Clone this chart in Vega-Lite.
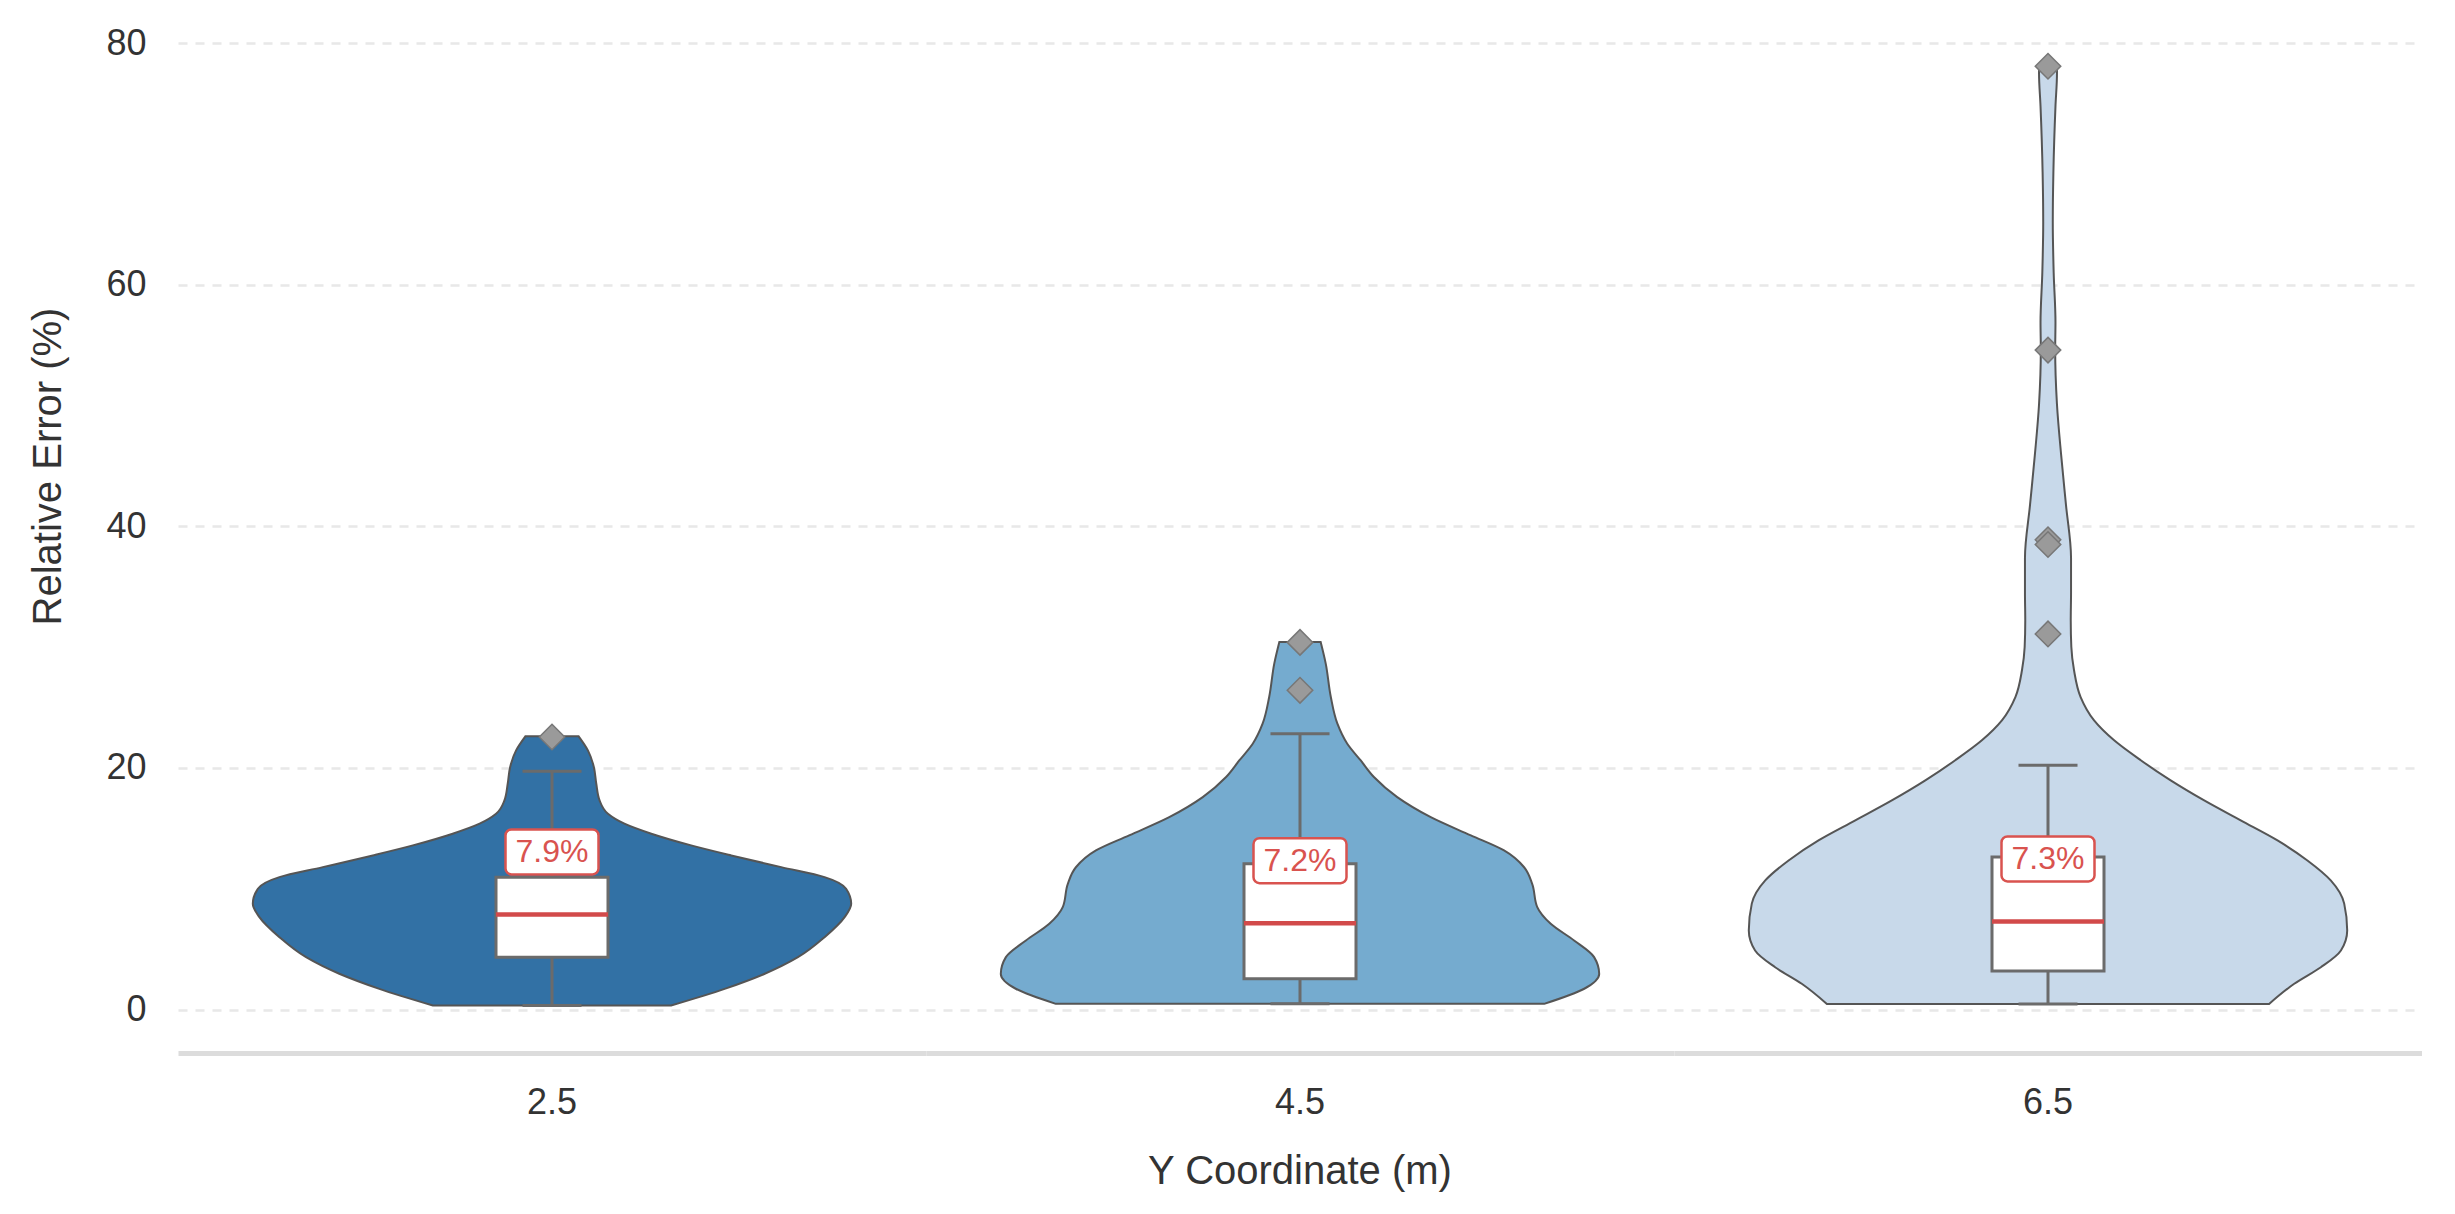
{
  "$schema": "https://vega.github.io/schema/vega-lite/v6.json",
  "padding": {"left": 28, "top": 18, "right": 0, "bottom": 0},
  "background": "white",
  "config": {
    "font": "Liberation Sans",
    "view": {"stroke": null}
  },
  "data": {
    "values": [
      {"kind": "v", "group": "2.5", "err": 22.62, "dens": 0.089},
      {"kind": "v", "group": "2.5", "err": 21.46, "dens": 0.120},
      {"kind": "v", "group": "2.5", "err": 20.07, "dens": 0.140},
      {"kind": "v", "group": "2.5", "err": 18.70, "dens": 0.148},
      {"kind": "v", "group": "2.5", "err": 17.32, "dens": 0.159},
      {"kind": "v", "group": "2.5", "err": 16.21, "dens": 0.187},
      {"kind": "v", "group": "2.5", "err": 15.39, "dens": 0.242},
      {"kind": "v", "group": "2.5", "err": 14.56, "dens": 0.332},
      {"kind": "v", "group": "2.5", "err": 13.59, "dens": 0.465},
      {"kind": "v", "group": "2.5", "err": 12.76, "dens": 0.599},
      {"kind": "v", "group": "2.5", "err": 11.79, "dens": 0.766},
      {"kind": "v", "group": "2.5", "err": 10.96, "dens": 0.911},
      {"kind": "v", "group": "2.5", "err": 10.00, "dens": 0.983},
      {"kind": "v", "group": "2.5", "err": 8.76, "dens": 1.0},
      {"kind": "v", "group": "2.5", "err": 7.65, "dens": 0.978},
      {"kind": "v", "group": "2.5", "err": 5.99, "dens": 0.911},
      {"kind": "v", "group": "2.5", "err": 4.33, "dens": 0.822},
      {"kind": "v", "group": "2.5", "err": 2.96, "dens": 0.711},
      {"kind": "v", "group": "2.5", "err": 1.71, "dens": 0.577},
      {"kind": "v", "group": "2.5", "err": 0.33, "dens": 0.398},

      {"kind": "v", "group": "4.5", "err": 30.43, "dens": 0.069},
      {"kind": "v", "group": "4.5", "err": 28.64, "dens": 0.086},
      {"kind": "v", "group": "4.5", "err": 25.88, "dens": 0.103},
      {"kind": "v", "group": "4.5", "err": 23.67, "dens": 0.125},
      {"kind": "v", "group": "4.5", "err": 22.01, "dens": 0.158},
      {"kind": "v", "group": "4.5", "err": 20.62, "dens": 0.203},
      {"kind": "v", "group": "4.5", "err": 19.25, "dens": 0.247},
      {"kind": "v", "group": "4.5", "err": 17.59, "dens": 0.325},
      {"kind": "v", "group": "4.5", "err": 15.93, "dens": 0.437},
      {"kind": "v", "group": "4.5", "err": 14.42, "dens": 0.571},
      {"kind": "v", "group": "4.5", "err": 13.17, "dens": 0.682},
      {"kind": "v", "group": "4.5", "err": 11.78, "dens": 0.749},
      {"kind": "v", "group": "4.5", "err": 10.41, "dens": 0.776},
      {"kind": "v", "group": "4.5", "err": 8.48, "dens": 0.793},
      {"kind": "v", "group": "4.5", "err": 7.10, "dens": 0.838},
      {"kind": "v", "group": "4.5", "err": 5.72, "dens": 0.916},
      {"kind": "v", "group": "4.5", "err": 4.34, "dens": 0.983},
      {"kind": "v", "group": "4.5", "err": 2.95, "dens": 1.0},
      {"kind": "v", "group": "4.5", "err": 1.72, "dens": 0.950},
      {"kind": "v", "group": "4.5", "err": 0.47, "dens": 0.816},

      {"kind": "v", "group": "6.5", "err": 78.2, "dens": 0.030},
      {"kind": "v", "group": "6.5", "err": 77.5, "dens": 0.030},
      {"kind": "v", "group": "6.5", "err": 74.8, "dens": 0.025},
      {"kind": "v", "group": "6.5", "err": 69.3, "dens": 0.018},
      {"kind": "v", "group": "6.5", "err": 65.2, "dens": 0.016},
      {"kind": "v", "group": "6.5", "err": 61.0, "dens": 0.019},
      {"kind": "v", "group": "6.5", "err": 56.9, "dens": 0.025},
      {"kind": "v", "group": "6.5", "err": 54.6, "dens": 0.024},
      {"kind": "v", "group": "6.5", "err": 50.1, "dens": 0.030},
      {"kind": "v", "group": "6.5", "err": 45.9, "dens": 0.044},
      {"kind": "v", "group": "6.5", "err": 41.8, "dens": 0.060},
      {"kind": "v", "group": "6.5", "err": 37.4, "dens": 0.077},
      {"kind": "v", "group": "6.5", "err": 34.5, "dens": 0.077},
      {"kind": "v", "group": "6.5", "err": 32.23, "dens": 0.076},
      {"kind": "v", "group": "6.5", "err": 30.02, "dens": 0.078},
      {"kind": "v", "group": "6.5", "err": 28.09, "dens": 0.087},
      {"kind": "v", "group": "6.5", "err": 25.87, "dens": 0.109},
      {"kind": "v", "group": "6.5", "err": 23.94, "dens": 0.154},
      {"kind": "v", "group": "6.5", "err": 22.29, "dens": 0.221},
      {"kind": "v", "group": "6.5", "err": 20.64, "dens": 0.310},
      {"kind": "v", "group": "6.5", "err": 18.97, "dens": 0.410},
      {"kind": "v", "group": "6.5", "err": 17.31, "dens": 0.522},
      {"kind": "v", "group": "6.5", "err": 15.66, "dens": 0.644},
      {"kind": "v", "group": "6.5", "err": 14.0, "dens": 0.767},
      {"kind": "v", "group": "6.5", "err": 12.34, "dens": 0.867},
      {"kind": "v", "group": "6.5", "err": 10.69, "dens": 0.945},
      {"kind": "v", "group": "6.5", "err": 8.77, "dens": 0.990},
      {"kind": "v", "group": "6.5", "err": 6.55, "dens": 1.0},
      {"kind": "v", "group": "6.5", "err": 4.89, "dens": 0.979},
      {"kind": "v", "group": "6.5", "err": 3.5, "dens": 0.912},
      {"kind": "v", "group": "6.5", "err": 2.13, "dens": 0.823},
      {"kind": "v", "group": "6.5", "err": 0.46, "dens": 0.739},

      {"kind": "b", "group": "2.5", "q1": 4.33, "q3": 10.96, "med": 7.87, "wlo": 0.33, "whi": 19.72, "label": "7.9%"},
      {"kind": "b", "group": "4.5", "q1": 2.54, "q3": 12.07, "med": 7.15, "wlo": 0.47, "whi": 22.84, "label": "7.2%"},
      {"kind": "b", "group": "6.5", "q1": 3.18, "q3": 12.62, "med": 7.29, "wlo": 0.46, "whi": 20.22, "label": "7.3%"},

      {"kind": "o", "group": "2.5", "err": 22.56},
      {"kind": "o", "group": "4.5", "err": 30.4},
      {"kind": "o", "group": "4.5", "err": 26.43},
      {"kind": "o", "group": "6.5", "err": 78.1},
      {"kind": "o", "group": "6.5", "err": 54.6},
      {"kind": "o", "group": "6.5", "err": 38.9},
      {"kind": "o", "group": "6.5", "err": 38.5},
      {"kind": "o", "group": "6.5", "err": 31.1}
    ]
  },
  "facet": {
    "column": {
      "field": "group",
      "type": "ordinal",
      "title": "Y Coordinate (m)",
      "header": {
        "labelOrient": "bottom",
        "titleOrient": "bottom",
        "labelFont": "Liberation Sans",
        "labelFontSize": 36,
        "labelColor": "#333333",
        "labelPadding": 33,
        "titleFont": "Liberation Sans",
        "titleFontSize": 40,
        "titleFontWeight": "normal",
        "titleColor": "#333333",
        "titlePadding": 21
      }
    }
  },
  "spacing": 0,
  "resolve": {"scale": {"x": "independent"}},
  "spec": {
    "width": 748,
    "height": 1035,
    "resolve": {"scale": {"x": "independent"}},
    "layer": [
      {
        "transform": [{"filter": "datum.kind === 'v'"}],
        "mark": {"type": "area", "orient": "horizontal", "interpolate": "monotone", "stroke": "#555555", "strokeWidth": 2},
        "encoding": {
          "y": {
            "field": "err", "type": "quantitative", "title": "Relative Error (%)",
            "scale": {"domain": [-3.6, 82.1], "nice": false, "zero": false},
            "axis": {
              "values": [0, 20, 40, 60, 80],
              "domain": false, "ticks": false,
              "labelFont": "Liberation Sans", "labelFontSize": 36, "labelColor": "#333333", "labelPadding": 32,
              "titleFont": "Liberation Sans", "titleFontSize": 40, "titleFontWeight": "normal", "titleColor": "#333333",
              "titlePadding": 37, "titleY": 448,
              "grid": true, "gridDash": [9, 8], "gridColor": "#e8e8e8", "gridWidth": 2.5
            }
          },
          "x": {
            "field": "dens", "type": "quantitative", "stack": "center", "impute": null,
            "scale": {"domain": [-0.125, 1.125], "nice": false, "zero": false},
            "axis": {"title": null, "labels": false, "ticks": false, "grid": false, "domain": true, "domainColor": "#dcdcdc", "domainWidth": 5}
          },
          "color": {
            "field": "group", "type": "nominal",
            "scale": {"domain": ["2.5", "4.5", "6.5"], "range": ["#3271a5", "#75abcf", "#c8d9ea"]},
            "legend": null
          }
        }
      },
      {
        "layer": [
          {
            "transform": [{"filter": "datum.kind === 'b'"}],
            "mark": {"type": "rule", "stroke": "#6b6b6b", "strokeWidth": 3},
            "encoding": {
              "x": {"field": "group", "type": "nominal", "axis": null},
              "y": {"field": "q3", "type": "quantitative", "title": "Relative Error (%)"},
              "y2": {"field": "whi"}
            }
          },
          {
            "transform": [{"filter": "datum.kind === 'b'"}],
            "mark": {"type": "rule", "stroke": "#6b6b6b", "strokeWidth": 3},
            "encoding": {
              "x": {"field": "group", "type": "nominal", "axis": null},
              "y": {"field": "wlo", "type": "quantitative", "title": "Relative Error (%)"},
              "y2": {"field": "q1"}
            }
          },
          {
            "transform": [{"filter": "datum.kind === 'b'"}],
            "mark": {"type": "tick", "orient": "horizontal", "color": "#6b6b6b", "size": 59, "thickness": 3, "opacity": 1},
            "encoding": {
              "x": {"field": "group", "type": "nominal", "axis": null},
              "y": {"field": "whi", "type": "quantitative", "title": "Relative Error (%)"}
            }
          },
          {
            "transform": [{"filter": "datum.kind === 'b'"}],
            "mark": {"type": "tick", "orient": "horizontal", "color": "#6b6b6b", "size": 59, "thickness": 3, "opacity": 1},
            "encoding": {
              "x": {"field": "group", "type": "nominal", "axis": null},
              "y": {"field": "wlo", "type": "quantitative", "title": "Relative Error (%)"}
            }
          },
          {
            "transform": [{"filter": "datum.kind === 'b'"}],
            "mark": {"type": "bar", "width": 112, "fill": "white", "stroke": "#6b6b6b", "strokeWidth": 3},
            "encoding": {
              "x": {"field": "group", "type": "nominal", "axis": null},
              "y": {"field": "q1", "type": "quantitative", "title": "Relative Error (%)"},
              "y2": {"field": "q3"}
            }
          },
          {
            "transform": [{"filter": "datum.kind === 'b'"}],
            "mark": {"type": "tick", "orient": "horizontal", "color": "#d24a4a", "size": 112, "thickness": 4.5, "opacity": 1},
            "encoding": {
              "x": {"field": "group", "type": "nominal", "axis": null},
              "y": {"field": "med", "type": "quantitative", "title": "Relative Error (%)"}
            }
          },
          {
            "transform": [{"filter": "datum.kind === 'b'"}],
            "mark": {"type": "bar", "width": 93, "fill": "white", "stroke": "#d9534f", "strokeWidth": 2.5, "cornerRadius": 6, "yOffset": -85, "y2Offset": -40},
            "encoding": {
              "x": {"field": "group", "type": "nominal", "axis": null},
              "y": {"field": "med", "type": "quantitative", "title": "Relative Error (%)"},
              "y2": {"field": "med"}
            }
          },
          {
            "transform": [{"filter": "datum.kind === 'b'"}],
            "mark": {"type": "text", "font": "Liberation Sans", "fontSize": 32, "color": "#d9534f", "align": "center", "baseline": "middle", "yOffset": -62},
            "encoding": {
              "x": {"field": "group", "type": "nominal", "axis": null},
              "y": {"field": "med", "type": "quantitative", "title": "Relative Error (%)"},
              "text": {"field": "label"}
            }
          },
          {
            "transform": [{"filter": "datum.kind === 'o'"}],
            "mark": {"type": "point", "shape": "diamond", "filled": true, "size": 650, "fill": "#9a9a9a", "stroke": "#777777", "strokeWidth": 1.5, "opacity": 1},
            "encoding": {
              "x": {"field": "group", "type": "nominal", "axis": null},
              "y": {"field": "err", "type": "quantitative", "title": "Relative Error (%)"}
            }
          }
        ]
      }
    ]
  }
}
